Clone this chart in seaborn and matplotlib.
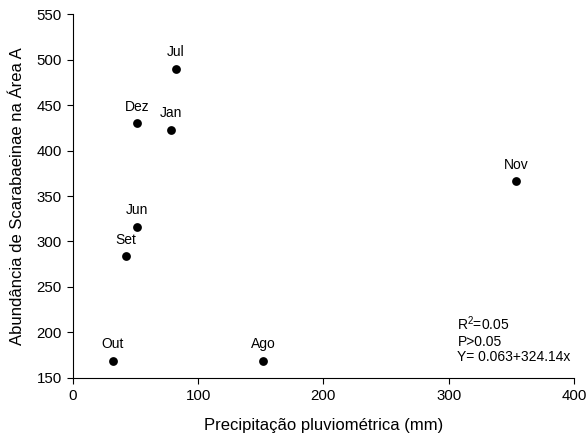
import matplotlib
matplotlib.use("Agg")
import matplotlib.pyplot as plt
import seaborn as sns
import pandas as pd

months = ["Jul", "Dez", "Jan", "Jun", "Set", "Out", "Ago", "Nov"]
precip = [82, 51, 78, 51, 42, 32, 152, 354]
abund = [490, 430, 423, 316, 284, 169, 169, 366]

sns.set_style("ticks")
plt.rcParams['font.family'] = ['Liberation Sans', 'DejaVu Sans']
plt.rcParams.update({
    "text.color": "black", "axes.labelcolor": "black",
    "xtick.color": "black", "ytick.color": "black",
    "axes.edgecolor": "black",
    "mathtext.fontset": "custom", "mathtext.rm": "Liberation Sans",
    "mathtext.it": "Liberation Sans:italic", "mathtext.bf": "Liberation Sans:bold",
})

df = pd.DataFrame({"precip": precip, "abund": abund, "month": months})

fig = plt.figure(figsize=(5.88, 4.43), dpi=100)
ax = fig.add_axes([0.124, 0.147, 0.852, 0.821])
sns.scatterplot(data=df, x="precip", y="abund", ax=ax, color="black",
                s=40, edgecolor="black", linewidth=0, zorder=3)
for m, x, y in zip(months, precip, abund):
    ax.annotate(m, (x, y), xytext=(0, 9), textcoords="offset points",
                ha="center", va="baseline", fontsize=10, color="black")

ax.set_xlim(0, 400)
ax.set_ylim(150, 550)
ax.set_xticks([0, 100, 200, 300, 400])
ax.set_yticks(range(150, 551, 50))
ax.tick_params(direction="out", length=4, width=0.8, labelsize=10.8,
               color="black", labelcolor="black", pad=4)
for s in ["top", "right"]:
    ax.spines[s].set_visible(False)
for s in ["left", "bottom"]:
    ax.spines[s].set_color("black")
    ax.spines[s].set_linewidth(0.8)
ax.set_xlabel("Precipitação pluviométrica (mm)", fontsize=12, labelpad=11, color="black")
ax.set_ylabel("Abundância de Scarabaeinae na Área A", fontsize=12, labelpad=8, color="black")

ax.text(307, 202.5, r"R$^\mathregular{2}$=0.05", fontsize=10, ha="left", va="baseline")
ax.text(307, 185.2, "P>0.05", fontsize=10, ha="left", va="baseline")
ax.text(307, 168.4, "Y= 0.063+324.14x", fontsize=10, ha="left", va="baseline")

fig.savefig("out.png", dpi=100)
